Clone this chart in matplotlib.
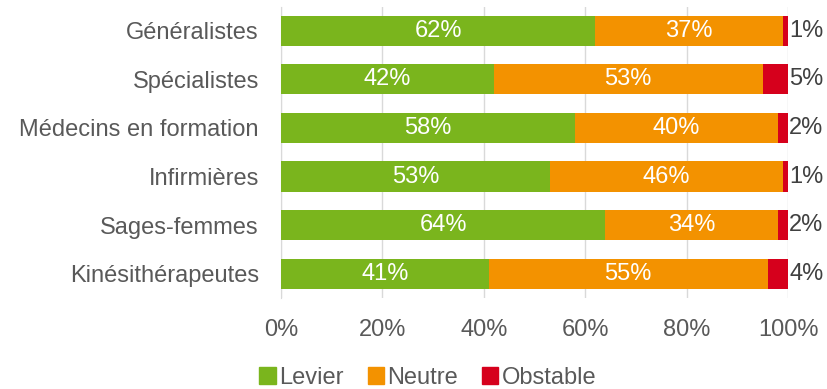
import numpy as np
import matplotlib.pyplot as plt
from matplotlib.patches import Patch

categories = ["Généralistes", "Spécialistes", "Médecins en formation",
              "Infirmières", "Sages-femmes", "Kinésithérapeutes"]
levier = [62, 42, 58, 53, 64, 41]
neutre = [37, 53, 40, 46, 34, 55]
obstable = [1, 5, 2, 1, 2, 4]
series_names = ["Levier", "Neutre", "Obstable"]
colors = ["#7AB51D", "#F39200", "#D6001C"]
ticks = [0, 20, 40, 60, 80, 100]

plt.rcParams['font.family'] = ['Liberation Sans', 'DejaVu Sans']
text_color = "#595959"
fs = 17

fig = plt.figure(figsize=(8.27, 3.89), dpi=100)
ax = fig.add_axes([281 / 827, 1 - 298 / 389, 507 / 827, 291.5 / 389])

y = np.arange(len(categories))
lev = np.array(levier)
neu = np.array(neutre)
obs = np.array(obstable)
h = 0.62

ax.barh(y, lev, height=h, color=colors[0], zorder=3)
ax.barh(y, neu, left=lev, height=h, color=colors[1], zorder=3)
ax.barh(y, obs, left=lev + neu, height=h, color=colors[2], zorder=3)

for i in range(len(categories)):
    ax.text(lev[i] / 2, y[i], f"{lev[i]}%", ha='center', va='center',
            color='white', fontsize=fs, zorder=4)
    ax.text(lev[i] + neu[i] / 2, y[i], f"{neu[i]}%", ha='center', va='center',
            color='white', fontsize=fs, zorder=4)
    ax.text(lev[i] + neu[i] + obs[i] + 0.2, y[i], f"{obs[i]}%", ha='left',
            va='center', color="#404040", fontsize=fs, zorder=4)

ax.set_xlim(0, 100)
ax.set_ylim(len(categories) - 0.5, -0.5)
ax.set_yticks(y)
ax.set_yticklabels(categories, fontsize=fs, color=text_color)
ax.set_xticks(ticks)
ax.set_xticklabels([f"{t}%" for t in ticks], fontsize=fs, color=text_color)
ax.tick_params(axis='both', length=0)
ax.tick_params(axis='y', pad=16)
ax.tick_params(axis='x', pad=15)
ax.grid(axis='x', color="#D9D9D9", linewidth=1, zorder=0)
for s in ['top', 'right', 'bottom']:
    ax.spines[s].set_visible(False)
ax.spines['left'].set_color("#D9D9D9")

handles = [Patch(color=c, label=n) for c, n in zip(colors, series_names)]
fig.legend(handles=handles, loc='center', bbox_to_anchor=(428 / 827, 1 - 378 / 389),
           ncol=3, frameon=False, fontsize=fs, handlelength=0.7, handleheight=0.7,
           handletextpad=0.15, columnspacing=1.0, labelcolor=text_color,
           borderaxespad=0, borderpad=0)

fig.savefig("out.png", dpi=100)
